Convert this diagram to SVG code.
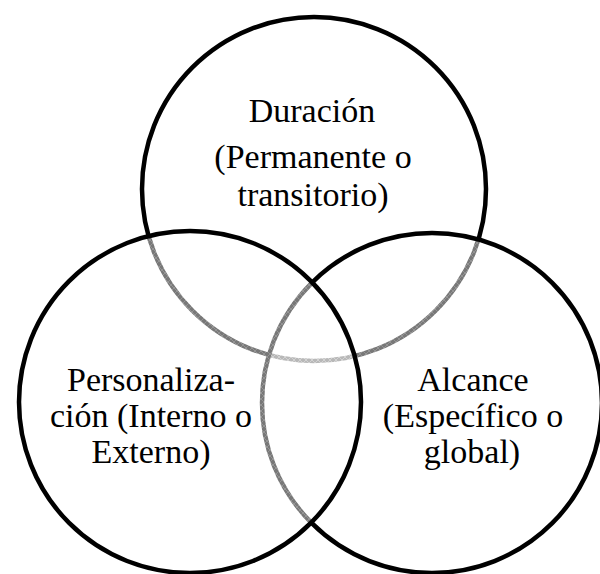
<svg xmlns="http://www.w3.org/2000/svg" width="600" height="574" viewBox="0 0 600 574">
  <defs>
    <!-- translucent white veil with a faint cross-hatch; it greys out strokes lying underneath -->
    <pattern id="veil" width="6" height="6" patternUnits="userSpaceOnUse">
      <rect width="6" height="6" fill="#ffffff" fill-opacity="0.47"/>
      <path d="M0 0 L6 6 M6 0 L0 6" stroke="#ffffff" stroke-opacity="0.35" stroke-width="0.6"/>
    </pattern>
    <style>
      .ring { fill: url(#veil); stroke: #000000; stroke-width: 4.5; }
      .label { font-family: "Liberation Serif", "Times New Roman", serif; font-size: 34px; fill: #000000; text-anchor: middle; }
    </style>
  </defs>
  <rect width="600" height="574" fill="#ffffff"/>

  <g id="duracion">
    <circle class="ring" cx="314" cy="189" r="172"/>
    <text class="label" x="312" y="122">Duración</text>
    <text class="label" x="313" y="168">(Permanente o</text>
    <text class="label" x="313" y="206">transitorio)</text>
  </g>

  <g id="alcance">
    <circle class="ring" cx="432" cy="403" r="170"/>
    <text class="label" x="473" y="391">Alcance</text>
    <text class="label" x="473" y="427">(Específico o</text>
    <text class="label" x="472" y="463">global)</text>
  </g>

  <g id="personalizacion">
    <circle class="ring" cx="190" cy="402" r="171"/>
    <text class="label" x="151" y="391">Personaliza-</text>
    <text class="label" x="151" y="427">ción (Interno o</text>
    <text class="label" x="151" y="463">Externo)</text>
  </g>
</svg>
